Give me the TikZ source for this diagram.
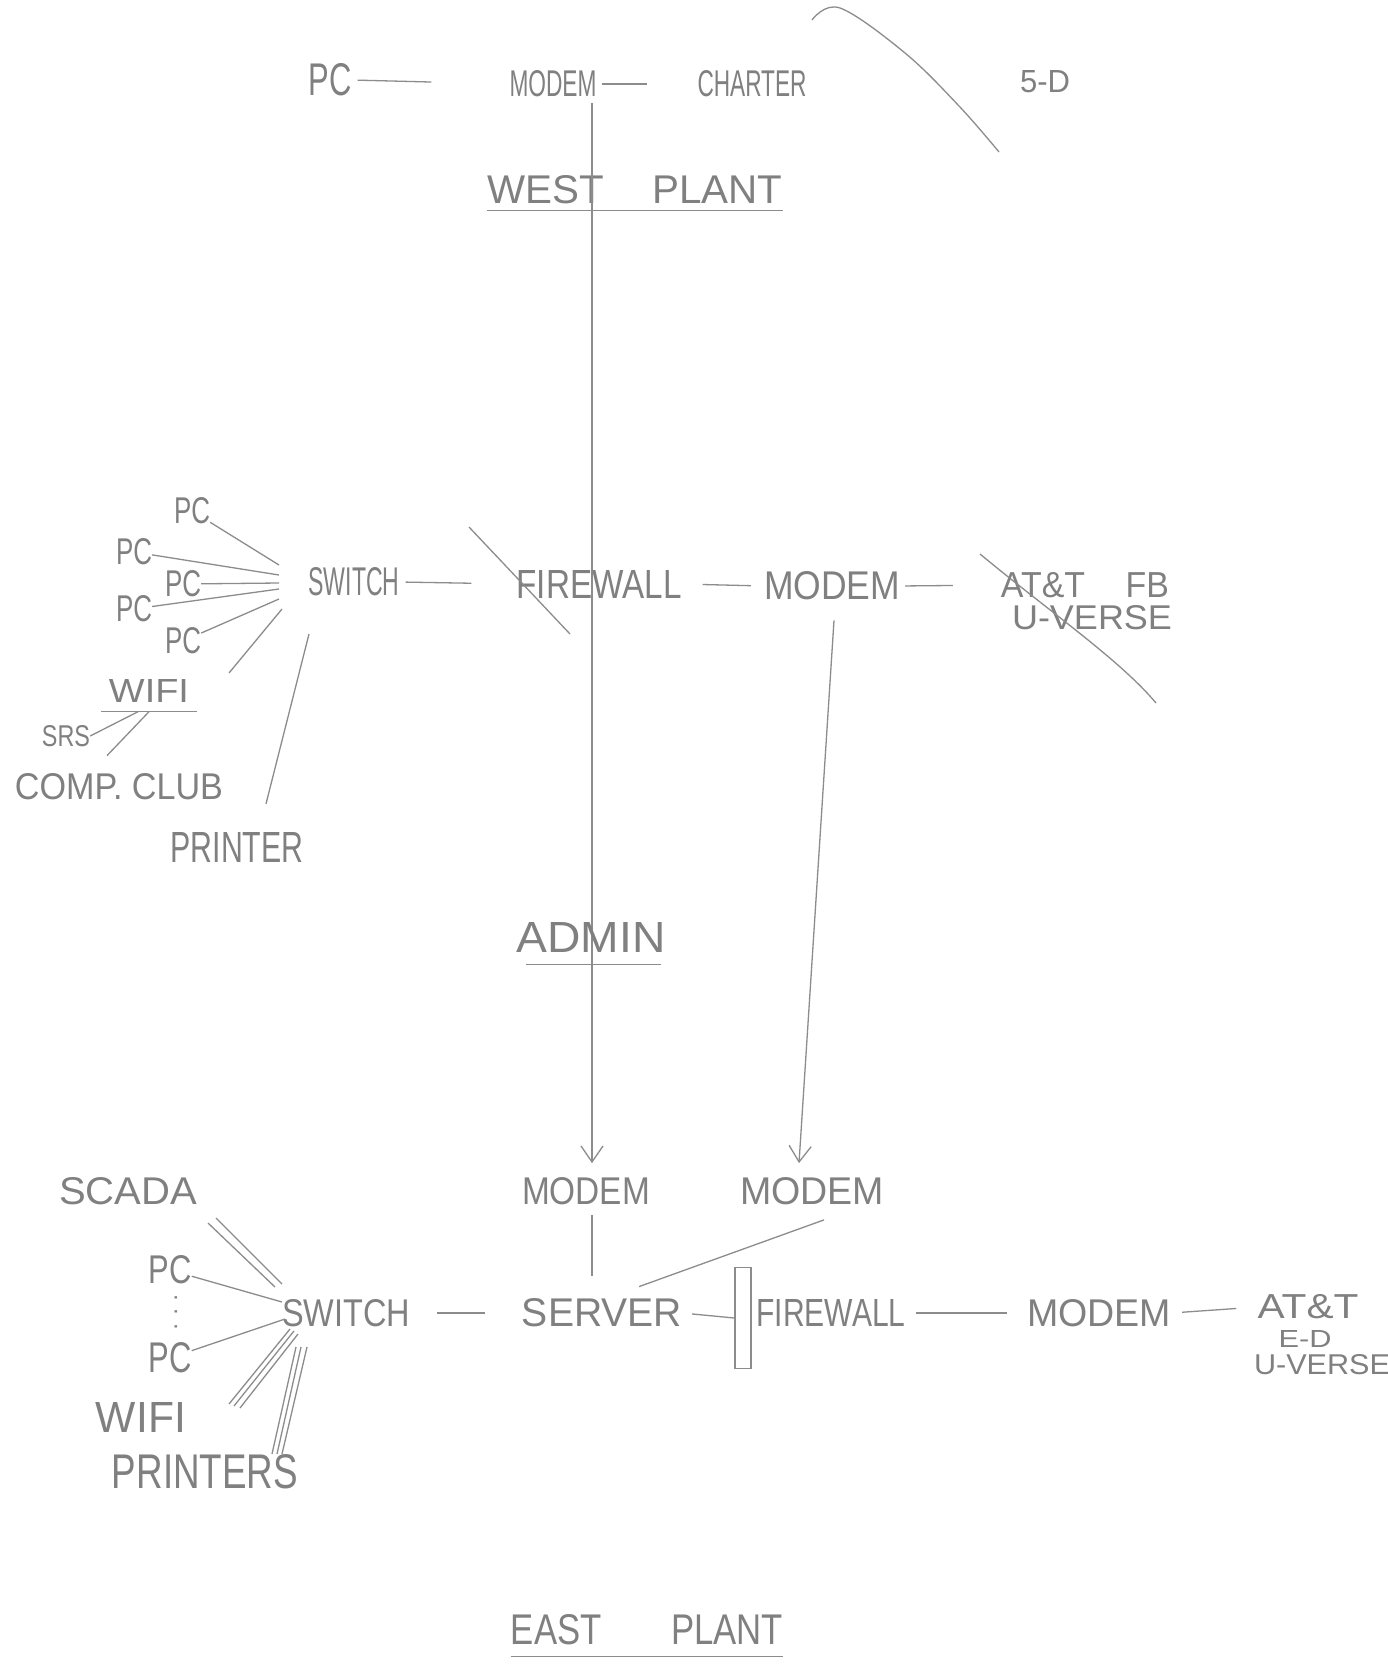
\documentclass[tikz,border=0pt]{standalone}
\usepackage{fontspec}
\setmainfont{Liberation Sans}
\usetikzlibrary{arrows.meta}
\newcommand\hw[3]{\resizebox{#1pt}{#2pt}{#3}}
\begin{document}
\begin{tikzpicture}[x=1pt,y=-1pt,
  lbl/.style={inner sep=0pt, text=black!50, anchor=center},
  ln/.style={draw=black!45, line width=1.3pt},
  arr/.style={ln, -{Straight Barb[length=16pt,width=22pt]}},
  boxst/.style={draw=black!45, line width=1.3pt, minimum width=16pt, minimum height=101pt, inner sep=0pt}
]
\fill[white] (0,0) rectangle (1388,1670);
\useasboundingbox (0,0) rectangle (1388,1670);

% ---------- top row ----------
\node[lbl] (pcT) at (330,80) {\hw{43}{32}{PC}};
\node[lbl] (modT) at (553,84) {\hw{87}{26}{MODEM}};
\node[lbl] (chT) at (752,84) {\hw{109}{26}{CHARTER}};
\node[lbl] (fdT) at (1045,82) {\hw{50}{22}{5-D}};
\draw[ln, shorten <=6pt, shorten >=78pt] (pcT.east) -- (modT.west);
\draw[ln, shorten <=5pt, shorten >=50pt] (modT.east) -- (chT.west);
\draw[ln] plot[smooth, tension=0.6] coordinates {(812,20) (840,8) (905,53) (959,106) (999,152)};

\node[lbl] (west) at (635,190) {\hw{295}{28}{WEST\hspace{1.2em}PLANT}};
\draw[ln] ([yshift=-6pt]west.south west) -- ([yshift=-6pt]west.south east);

% main vertical line
\coordinate (vtop) at (592,103);
\node[lbl] (modB1) at (586,1191) {\hw{128}{27}{MODEM}};
\draw[arr, shorten >=14pt] (vtop) -- (vtop |- modB1.north);

% ---------- middle row ----------
\node[lbl] (pc1) at (192,511) {\hw{36}{26}{PC}};
\node[lbl] (pc2) at (134,552) {\hw{36}{26}{PC}};
\node[lbl] (pc3) at (183,584) {\hw{36}{26}{PC}};
\node[lbl] (pc4) at (134,609) {\hw{36}{26}{PC}};
\node[lbl] (pc5) at (183,641) {\hw{36}{26}{PC}};
\node[lbl] (swM) at (354,582) {\hw{91}{28}{SWITCH}};
\node[lbl] (fwM) at (599,584) {\hw{165}{28}{FIREWALL}};
\node[lbl] (modM) at (832,586) {\hw{136}{28}{MODEM}};
\node[lbl] (att1) at (1085,585) {\hw{168}{25}{AT\&T\hspace{1.2em}FB}};
\node[lbl] (uv1) at (1092,618) {\hw{160}{24}{U-VERSE}};

\draw[ln, shorten <=6pt, shorten >=45pt] (swM.east) -- (fwM.west);
\draw[ln, shorten <=21pt, shorten >=13pt] (fwM.east) -- (modM.west);
\draw[ln, shorten <=5pt, shorten >=48pt] (modM.east) -- (att1.west);

% strike marks
\coordinate (s1a) at (469,527); \coordinate (s1b) at (570,634);
\draw[ln] (s1a) -- (s1b);
\coordinate (s2a) at (980,554); \coordinate (s2b) at (1156,703);
\draw[ln] (s2a) .. controls (1050,612) and (1120,660) .. (s2b);

% spokes to switch
\coordinate (h1) at (279,565);
\coordinate (h2) at (279,575);
\coordinate (h3) at (279,583);
\coordinate (h4) at (279,589);
\coordinate (h5) at (279,599);
\draw[ln] (pc1) -- (h1);
\draw[ln] (pc2) -- (h2);
\draw[ln] (pc3) -- (h3);
\draw[ln] (pc4) -- (h4);
\draw[ln] (pc5) -- (h5);

\node[lbl] (wifi) at (149,691) {\hw{80}{23}{WIFI}};
\draw[ln] ([xshift=-8pt,yshift=-9pt]wifi.south west) -- ([xshift=8pt,yshift=-9pt]wifi.south east);
\coordinate (wA) at (229,673); \coordinate (hW) at (282,609);
\draw[ln] (wA) -- (hW);

\node[lbl] (srs) at (66,736) {\hw{48}{21}{SRS}};
\node[lbl] (comp) at (119,787) {\hw{208}{26}{COMP. CLUB}};
\draw[ln] (srs.east) -- ([xshift=-11pt,yshift=-9pt]wifi.south);
\draw[ln] ([xshift=-12pt,yshift=18pt]comp.north) -- ([yshift=-9pt]wifi.south);

\node[lbl] (prn) at (237,847) {\hw{133}{30}{PRINTER}};
\coordinate (pA) at (309,634);
\draw[ln] ([xshift=29pt,yshift=28pt]prn.north) -- (pA);

% ---------- admin ----------
\node[lbl] (admin) at (591,937) {\hw{149}{30}{ADMIN}};
\draw[ln] ([xshift=10pt,yshift=-12pt]admin.south west) -- ([xshift=-5pt,yshift=-12pt]admin.south east);

% ---------- bottom ----------
\node[lbl] (modB2) at (812,1191) {\hw{144}{27}{MODEM}};
\draw[arr] ([xshift=2pt,yshift=-20pt]modM.south) -- ([xshift=-13pt,yshift=14pt]modB2.north);

\node[lbl] (scada) at (128,1191) {\hw{138}{27}{SCADA}};
\node[lbl] (pcB1) at (170,1270) {\hw{43}{28}{PC}};
\node[lbl, rotate=-90] (dots) at (176,1312) {\fontsize{24}{24}\selectfont .\hspace{8pt}.\hspace{8pt}.};
\node[lbl] (pcB2) at (170,1358) {\hw{43}{30}{PC}};
\node[lbl] (wifiB) at (141,1417) {\hw{90}{30}{WIFI}};
\node[lbl] (prnB) at (205,1472) {\hw{186}{34}{PRINTERS}};
\node[lbl] (swB) at (346,1313) {\hw{128}{27}{SWITCH}};
\node[lbl] (srv) at (602,1313) {\hw{160}{28}{SERVER}};
\node[boxst] (fwbox) at (743,1318) {};
\node[lbl] (fwB) at (831,1313) {\hw{149}{27}{FIREWALL}};
\node[lbl] (modB3) at (1099,1313) {\hw{144}{27}{MODEM}};
\node[lbl] (attB) at (1308,1307) {\hw{101}{24}{AT\&T}};
\node[lbl] (edB) at (1305,1339) {\hw{53}{17}{E-D}};
\node[lbl] (uvB) at (1322,1365) {\hw{136}{20}{U-VERSE}};

\draw[ln, shorten <=27pt, shorten >=37pt] (swB.east) -- (srv.west);
\draw[ln, shorten <=10pt] (srv.east) -- (fwbox.west);
\draw[ln, shorten <=10pt, shorten >=20pt] (fwB.east) -- (modB3.west);
\draw[ln, shorten <=11pt, shorten >=21pt] (modB3.east) -- (attB.west);

\draw[ln, shorten <=10pt, shorten >=23pt] ([xshift=6pt]modB1.south) -- ([xshift=6pt]modB1.south |- srv.north);
\draw[ln] ([xshift=12pt,yshift=-15pt]modB2.south) -- ([xshift=37pt,yshift=12pt]srv.north);

% bottom spokes
\coordinate (sc1a) at (208,1223); \coordinate (sc1b) at (275,1287);
\coordinate (sc2a) at (216,1218); \coordinate (sc2b) at (282,1284);
\draw[ln] (sc1a) -- (sc1b);
\draw[ln] (sc2a) -- (sc2b);
\coordinate (hb1) at (282,1302);
\draw[ln] (pcB1) -- (hb1);
\coordinate (hb2) at (285,1319);
\draw[ln] (pcB2) -- (hb2);
\coordinate (wb1a) at (229,1404); \coordinate (wb1b) at (290,1329);
\coordinate (wb2a) at (234,1406); \coordinate (wb2b) at (294,1331);
\coordinate (wb3a) at (240,1408); \coordinate (wb3b) at (298,1334);
\draw[ln] (wb1a) -- (wb1b);
\draw[ln] (wb2a) -- (wb2b);
\draw[ln] (wb3a) -- (wb3b);
\coordinate (pb1a) at (272,1454); \coordinate (pb1b) at (296,1347);
\coordinate (pb2a) at (277,1454); \coordinate (pb2b) at (301,1347);
\coordinate (pb3a) at (282,1454); \coordinate (pb3b) at (307,1347);
\draw[ln] (pb1a) -- (pb1b);
\draw[ln] (pb2a) -- (pb2b);
\draw[ln] (pb3a) -- (pb3b);

% ---------- east plant ----------
\node[lbl] (east) at (647,1630) {\hw{272}{30}{EAST\hspace{2em}PLANT}};
\draw[ln] ([yshift=-11pt]east.south west) -- ([yshift=-11pt]east.south east);
\end{tikzpicture}
\end{document}
